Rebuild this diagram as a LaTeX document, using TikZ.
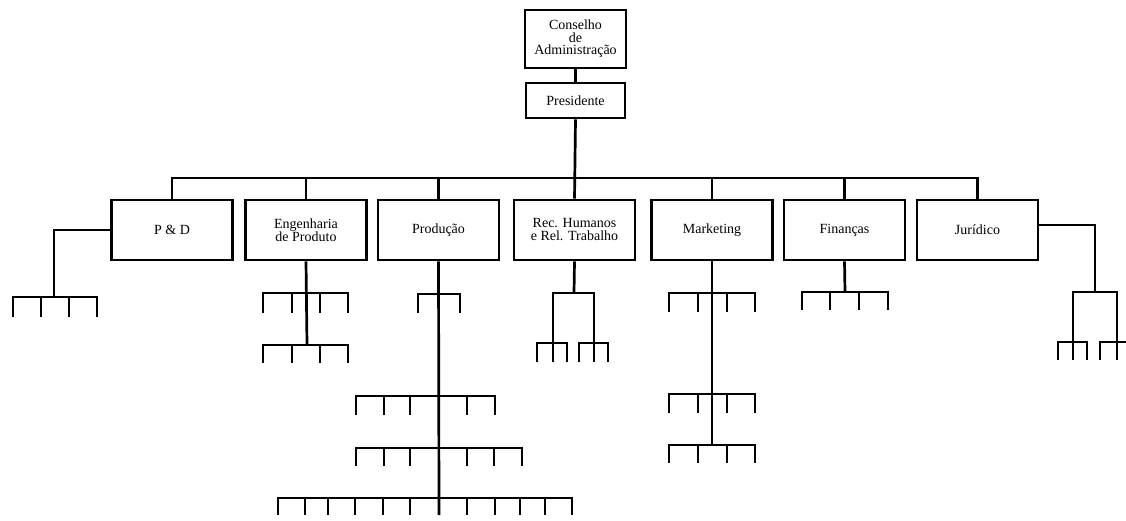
\documentclass[tikz,border=0pt]{standalone}
\usepackage{fontspec}
\setmainfont{Liberation Serif}
% comb: #1 left x, #2 right x, #3 bar y, #4 inner ticks, #5 tick length
\newcommand\combbar[5]{%
  \draw (#1,#3+#5) -- (#1,#3) -- (#2,#3) -- (#2,#3+#5);
  \foreach \t in {#4} \draw (\t,#3) -- (\t,#3+#5);}
\begin{document}
\begin{tikzpicture}[x=1pt,y=-1pt,line width=2.7pt,line join=miter,
  unit/.style={draw,rectangle,fill=white,minimum width=121pt,minimum height=60pt,
    align=center,inner sep=1pt,font=\fontsize{14}{13}\selectfont},
  top/.style={draw,rectangle,fill=white,align=center,inner sep=1pt,
    font=\fontsize{14}{12.5}\selectfont}]
\useasboundingbox (0,0) rectangle (1126,521);
\clip (0,0) rectangle (1126,521);

% direction
\node[top,minimum width=101pt,minimum height=58pt] (board) at (575.5,39) {Conselho\\de\\Administração};
\node[top,minimum width=99pt,minimum height=35pt] (pres) at (575.5,100.5) {Presidente};

% departments
\node[unit] (pd)  at (172,230)   {P \& D};
\node[unit] (eng) at (306,230)   {Engenharia\\de Produto};
\node[unit] (prod) at (438.5,230) {Produção};
\node[unit] (rh)  at (574.5,230) {Rec. Humanos\\e Rel. Trabalho};
\node[unit] (mkt) at (712,230)   {Marketing};
\node[unit] (fin) at (844.5,230) {Finanças};
\node[unit] (jur) at (977.5,230) {Jurídico};

% bus
\coordinate (busL) at (pd.north |- 0,178);
\coordinate (busR) at (jur.north |- 0,178);
\draw (board) -- (pres);
\draw (pres.south) -- (rh.north);
\draw (pd.north) -- (busL) -- (busR) -- (jur.north);
\foreach \d in {eng,prod,mkt,fin} \draw (\d.north) -- (\d.north |- busL);

% P & D
\coordinate (pdj) at (54,297);
\draw (pd.west) -- (pd.west -| pdj) -- (pdj);
\combbar{13}{97}{297}{41,69}{20}

% Engenharia de Produto
\coordinate (engj) at (307,345);
\draw (eng.south) -- (engj);
\combbar{263}{348}{293}{292,320}{20}
\combbar{263}{348}{345}{292,320}{18}

% Produção
\coordinate (prodj) at (439,515);
\draw (prod.south) -- (prodj);
\draw (418,313) -- (418,294) -- (460,294) -- (460,313);
\combbar{356}{495}{396}{384,410,467}{19}
\combbar{356}{522}{448}{384,410,467,494}{18}
\combbar{278}{572}{498}{305,328,355,383,410,467,495,520,545}{17}

% Recursos Humanos
\coordinate (rhj) at (574,293);
\draw (rh.south) -- (rhj);
\draw (553,362) -- (553,293) -- (594,293) -- (594,362);
\combbar{537}{567}{343}{553}{19}
\combbar{579}{608}{343}{594}{19}

% Marketing
\coordinate (mktj) at (712,445);
\draw (mkt.south) -- (mktj);
\combbar{669}{755}{293}{698,727}{19}
\combbar{669}{755}{394}{698,727}{19}
\combbar{669}{755}{445}{698,727}{18}

% Finanças
\coordinate (finj) at (845,292);
\draw (fin.south) -- (finj);
\combbar{802}{888}{292}{830,859}{18}

% Jurídico
\coordinate (jurj) at (1095,292);
\draw ([yshift=5pt]jur.east) -- ([yshift=5pt]jur.east -| jurj) -- (jurj);
\draw (1073,360) -- (1073,292) -- (1117,292) -- (1117,360);
\combbar{1058}{1087}{342}{1073}{18}
\combbar{1100}{1134}{342}{1117}{18}
\end{tikzpicture}
\end{document}
